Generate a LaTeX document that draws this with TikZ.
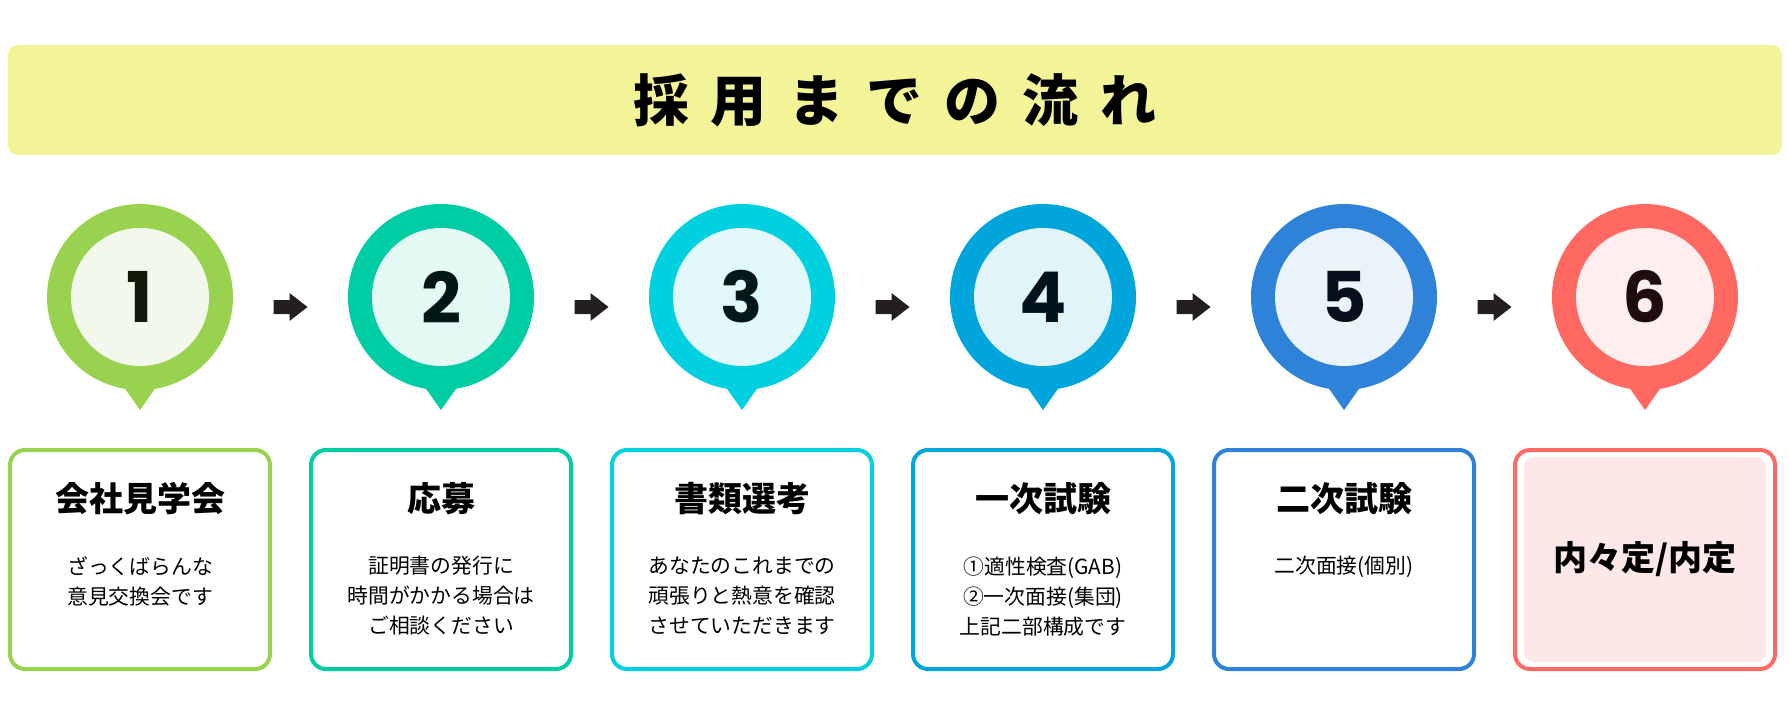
\documentclass[tikz,border=0pt]{standalone}
\usepackage{fontspec}
\setmainfont{Noto Sans CJK JP}
\newfontfamily\numfont{Poppins}
\usetikzlibrary{calc}
\definecolor{faixa}{HTML}{F3F398}
\definecolor{seta}{HTML}{231F20}
\definecolor{cor1}{HTML}{98D24E} \definecolor{fundo1}{HTML}{F2F9EC}
\definecolor{cor2}{HTML}{00CDA4} \definecolor{fundo2}{HTML}{E4F8F4}
\definecolor{cor3}{HTML}{00D0E0} \definecolor{fundo3}{HTML}{E2F8FB}
\definecolor{cor4}{HTML}{00A5DC} \definecolor{fundo4}{HTML}{E3F3FA}
\definecolor{cor5}{HTML}{2E83D8} \definecolor{fundo5}{HTML}{EAF2FB}
\definecolor{cor6}{HTML}{FF6961} \definecolor{fundo6}{HTML}{FFEEEE}
\definecolor{rosa}{HTML}{FDE7E7}
\newcommand{\esp}{\hspace{11pt}}
\tikzset{
  faixa/.style={fill=faixa, rounded corners=5pt, minimum width=887pt, minimum height=55pt, inner sep=0pt,
    font=\bfseries\fontsize{28}{28}\selectfont},
  pino/.style={circle, inner sep=0pt, minimum size=93pt},
  miolo/.style={circle, inner sep=0pt, minimum size=69pt, font=\numfont\bfseries\fontsize{35}{35}\selectfont},
  ponta/.style={line join=round},
  caixa/.style={rectangle, draw, line width=2pt, rounded corners=7.5pt, fill=white,
    minimum width=130pt, minimum height=109.5pt, inner sep=0pt},
  destaque/.style={rectangle, fill=rosa, rounded corners=5pt, minimum width=121pt, minimum height=102.5pt,
    inner sep=0pt, font=\bfseries\fontsize{17}{17}\selectfont},
  titcaixa/.style={font=\bfseries\fontsize{17}{17}\selectfont, inner sep=0pt},
  texto/.style={anchor=north, align=center, inner sep=0pt, font=\fontsize{10.4}{15}\selectfont},
}

\begin{document}
\begin{tikzpicture}[x=0.5pt, y=0.5pt]
  \useasboundingbox (0,0) rectangle (1789,703);

  % ---------------- faixa do título ----------------
  \node[faixa] (titulo) at (895,603) {採\esp 用\esp ま\esp で\esp の\esp 流\esp れ};

  % ---------------- marcadores numerados ----------------
  \foreach \i/\x in {1/140, 2/441, 3/742, 4/1043, 5/1344, 6/1645} {
    \fill[cor\i, ponta] (\x-24,327) -- (\x+24,327) -- (\x,293) -- cycle;
    \node[pino, fill=cor\i] (pino\i) at (\x,406) {};
    \node[miolo, fill=fundo\i, text=cor\i!12!black] (num\i) at (pino\i) {\i};
  }

  % setas entre as etapas
  \foreach \i/\j in {1/2, 2/3, 3/4, 4/5, 5/6} {
    \coordinate (m\i) at ($(pino\i)!0.5!(pino\j)+(0,-10)$);
    \fill[seta] ($(m\i)+(-17,7)$) -- ++(16,0) -- ++(0,7) -- ++(18,-14) -- ++(-18,-14) -- ++(0,7) -- ++(-16,0) -- cycle;
  }

  % ---------------- caixas de descrição ----------------
  \foreach \i/\x/\tit/\txt in {
      1/140/会社見学会/{ざっくばらんな\\意見交換会です},
      2/441/応募/{証明書の発行に\\時間がかかる場合は\\ご相談ください},
      3/742/書類選考/{あなたのこれまでの\\頑張りと熱意を確認\\させていただきます},
      4/1043/一次試験/{①適性検査(GAB)\\②一次面接(集団)\\上記二部構成です},
      5/1344/二次試験/{二次面接(個別)}} {
    \node[caixa, draw=cor\i] (caixa\i) at (\x,143.5) {};
    \node[titcaixa] (tit\i) at (\x,204) {\tit};
    \node[texto] (txt\i) at (\x,147) {\txt};
  }

  % última etapa: caixa preenchida
  \node[caixa, draw=cor6] (caixa6) at (1645,143.5) {};
  \node[destaque] (txt6) at (caixa6) {内々定/内定};
\end{tikzpicture}
\end{document}
